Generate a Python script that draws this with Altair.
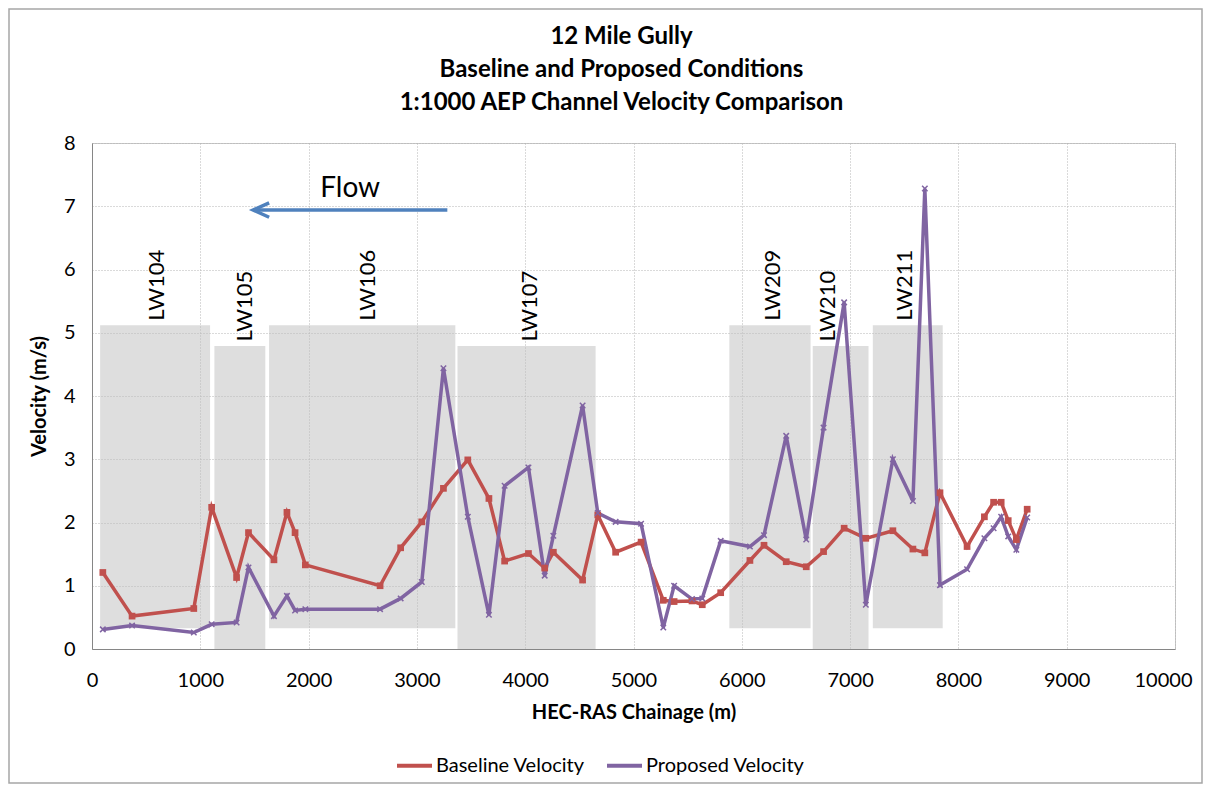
import altair as alt
import pandas as pd

# ---------------- data ----------------
chainage = [100, 370, 940, 1105, 1335, 1445, 1680, 1800, 1875, 1970, 2660, 2850,
            3045, 3245, 3470, 3665, 3810, 4030, 4180, 4260, 4530, 4670, 4835, 5070,
            5275, 5375, 5540, 5635, 5805, 6075, 6205, 6410, 6595, 6755, 6945, 7145,
            7395, 7580, 7690, 7830, 8080, 8240, 8325, 8395, 8460, 8535, 8635]
baseline = [1.21, 0.52, 0.64, 2.24, 1.13, 1.84, 1.41, 2.16, 1.84, 1.33, 1.00, 1.60,
            2.01, 2.54, 2.99, 2.38, 1.39, 1.51, 1.28, 1.53, 1.09, 2.12, 1.53, 1.69,
            0.77, 0.75, 0.76, 0.70, 0.89, 1.40, 1.64, 1.38, 1.30, 1.54, 1.91, 1.75,
            1.87, 1.58, 1.52, 2.47, 1.62, 2.09, 2.32, 2.32, 2.03, 1.73, 2.21]
proposed = [0.31, 0.37, 0.26, 0.39, 0.42, 1.29, 0.52, 0.84, 0.61, 0.63, 0.63, 0.80,
            1.06, 4.44, 2.09, 0.54, 2.58, 2.87, 1.16, 1.79, 3.85, 2.15, 2.01, 1.98,
            0.34, 1.00, 0.79, 0.80, 1.71, 1.62, 1.80, 3.37, 1.73, 3.50, 5.48, 0.70,
            3.00, 2.34, 7.28, 1.01, 1.26, 1.75, 1.91, 2.09, 1.78, 1.57, 2.08]
series_names = ["Baseline Velocity", "Proposed Velocity"]
series_colors = ["#c0504d", "#8064a2"]

zone_names = ["LW104", "LW105", "LW106", "LW107", "LW209", "LW210", "LW211"]
zone_start = [75, 1130, 1635, 3375, 5885, 6655, 7210]
zone_end = [1090, 1600, 3355, 4650, 6635, 7170, 7855]
zone_bottom = [0.33, 0.0, 0.33, 0.0, 0.33, 0.0, 0.33]
zone_top = [5.12, 4.79, 5.12, 4.79, 5.12, 4.79, 5.12]
zone_label_x = [600, 1413, 2548, 4044, 6288, 6796, 7507]

flow_tail = 3281
flow_head = 1488
flow_y = 6.94
flow_text_x = 2384
flow_text_y = 7.27

x_ticks = list(range(0, 10001, 1000))
y_ticks = list(range(0, 9))

FONT = "Lato, Carlito, Liberation Sans, sans-serif"

# ---------------- tables ----------------
n = len(chainage)
series_df = pd.DataFrame({
    "Chainage": chainage * 2,
    "Velocity": baseline + proposed,
    "Series": [series_names[0]] * n + [series_names[1]] * n,
})
zone_df = pd.DataFrame({
    "name": zone_names, "start": zone_start, "end": zone_end,
    "bottom": zone_bottom, "top": zone_top, "label_x": zone_label_x,
})
zone_df["label_y"] = zone_df["top"] + 0.07

xscale = alt.Scale(domain=[0, 10000], nice=False, zero=True)
yscale = alt.Scale(domain=[0, 8], nice=False)

xaxis = alt.Axis(values=x_ticks, format="d", title="HEC-RAS Chainage (m)", titleFont=FONT,
                 titleFontSize=20, titleFontWeight="bold", titleColor="#000",
                 labelFont=FONT, labelFontSize=20, labelColor="#000", ticks=False,
                 labelPadding=21, titlePadding=12, domainColor="#868686",
                 gridColor="#b4b4b4", gridDash=[1, 2], labelFlush=False,
                 labelAlign={"condition": {"test": "datum.value >= 10000", "value": "right"},
                             "value": "center"},
                 labelOffset={"condition": {"test": "datum.value >= 10000", "value": 17},
                              "value": 0})
yaxis = alt.Axis(values=y_ticks, format="d", title="Velocity (m/s)", titleFont=FONT,
                 titleFontSize=20, titleFontWeight="bold", titleColor="#000",
                 labelFont=FONT, labelFontSize=20, labelColor="#000", ticks=False,
                 labelPadding=17, titlePadding=14, domainColor="#868686",
                 gridColor="#b4b4b4", gridDash=[1, 2], labelFlush=False)

zones = alt.Chart(zone_df).mark_rect(color="#bdbdbd", opacity=0.5).encode(
    x=alt.X("start:Q", scale=xscale, axis=xaxis),
    x2="end:Q",
    y=alt.Y("bottom:Q", scale=yscale, axis=yaxis),
    y2="top:Q",
)
zone_labels = alt.Chart(zone_df).mark_text(
    angle=270, align="left", baseline="middle", fontSize=22, font=FONT, color="#000"
).encode(x="label_x:Q", y="label_y:Q", text="name:N")

color = alt.Color("Series:N", scale=alt.Scale(domain=series_names, range=series_colors),
                  legend=alt.Legend(title=None, orient="none", legendX=303, legendY=603,
                                    direction="horizontal", symbolType="stroke",
                                    symbolStrokeWidth=4, symbolSize=1225,
                                    labelFont=FONT, labelFontSize=20, labelColor="#000",
                                    labelLimit=400, columnPadding=14, labelOffset=2,
                                    padding=0))

lines = alt.Chart(series_df).mark_line(strokeWidth=3.5).encode(
    x="Chainage:Q", y="Velocity:Q", color=color,
)
base_pts = alt.Chart(series_df).transform_filter(
    alt.datum.Series == series_names[0]
).mark_point(shape="square", filled=True, size=45, color=series_colors[0], opacity=1).encode(
    x="Chainage:Q", y="Velocity:Q"
)
prop_pts = alt.Chart(series_df).transform_filter(
    alt.datum.Series == series_names[1]
).mark_point(shape="M-1,-1L1,1M-1,1L1,-1", filled=False, size=30,
             color=series_colors[1], strokeWidth=1.5, opacity=1).encode(
    x="Chainage:Q", y="Velocity:Q"
)

arrow_df = pd.DataFrame({"tail": [flow_tail], "head": [flow_head], "y": [flow_y]})
arrow_line = alt.Chart(arrow_df).mark_rule(color="#4f81bd", strokeWidth=3.5).encode(
    x="tail:Q", x2="head:Q", y="y:Q"
)
arrow_head = alt.Chart(arrow_df).mark_point(
    shape="M1,-0.9L-1,0L1,0.9", filled=False, size=256, color="#4f81bd",
    strokeWidth=3.5, opacity=1, xOffset=8
).encode(x="head:Q", y="y:Q")
flow_df = pd.DataFrame({"x": [flow_text_x], "y": [flow_text_y], "t": ["Flow"]})
flow_label = alt.Chart(flow_df).mark_text(fontSize=28, font=FONT, color="#000").encode(
    x="x:Q", y="y:Q", text="t:N"
)

frame = alt.Chart(pd.DataFrame({"a": [0]})).mark_rect(
    fill=None, stroke="#a6a6a6", strokeWidth=1.5
).encode(x=alt.value(-83), x2=alt.value(1083 + 27), y=alt.value(-134), y2=alt.value(506 + 134))

chart = alt.layer(
    zones, zone_labels, lines, base_pts, prop_pts, arrow_line, arrow_head, flow_label, frame
).properties(
    width=1083, height=506,
    padding={"left": 84, "top": 135, "right": 28, "bottom": 135},
    autosize=alt.AutoSizeParams(type="none"),
    title=alt.TitleParams(
        text=["12 Mile Gully", "Baseline and Proposed Conditions",
              "1:1000 AEP Channel Velocity Comparison"],
        font=FONT, fontSize=24, fontWeight="bold", color="#000",
        lineHeight=33, anchor="middle", offset=0, dy=107, dx=-12,
    ),
).configure_view(stroke="#c8c8c8")

chart.save("out.html", embed_options={"renderer": "svg", "actions": False})
